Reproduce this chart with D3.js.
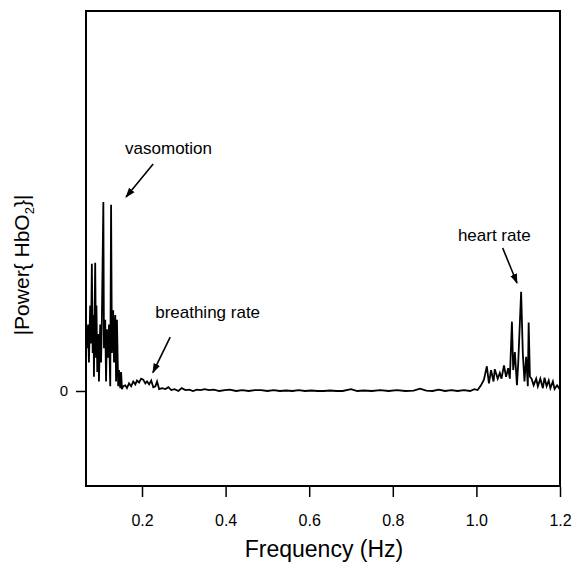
<!DOCTYPE html>
<html>
<head>
<meta charset="utf-8">
<script src="https://cdn.jsdelivr.net/npm/d3@7"></script>
<style>
  body { margin: 0; background: #fff; }
  text { font-family: "Liberation Sans", Arial, Helvetica, sans-serif; fill: #000; }
</style>
</head>
<body>
<div id="chart"></div>
<script>
// Spectrum (frequency in Hz, power in arbitrary units)
const freqHz = [
  0.066, 0.068, 0.071, 0.073, 0.076, 0.078, 0.080, 0.082, 0.084, 0.085,
  0.088, 0.090, 0.091, 0.093, 0.095, 0.097, 0.100, 0.102, 0.104, 0.1075,
  0.109, 0.112, 0.114, 0.116, 0.119, 0.121, 0.124, 0.126, 0.128, 0.131,
  0.133, 0.136, 0.138, 0.140, 0.143, 0.145, 0.148, 0.150, 0.152, 0.155,
  0.160, 0.164, 0.169, 0.174, 0.179, 0.184, 0.188, 0.193, 0.198, 0.203,
  0.208, 0.212, 0.217, 0.222, 0.227, 0.232, 0.236, 0.241, 0.248, 0.256,
  0.263, 0.270, 0.278, 0.287, 0.295, 0.304, 0.313, 0.322, 0.331, 0.340,
  0.350, 0.360, 0.372, 0.385, 0.398, 0.410, 0.425, 0.440, 0.455, 0.470,
  0.485, 0.500, 0.515, 0.530, 0.545, 0.560, 0.575, 0.590, 0.605, 0.620,
  0.635, 0.650, 0.665, 0.680, 0.700, 0.715, 0.730, 0.750, 0.770, 0.790,
  0.810, 0.830, 0.850, 0.865, 0.880, 0.895, 0.910, 0.925, 0.940, 0.955,
  0.970, 0.985, 0.995, 1.003, 1.011, 1.018, 1.025, 1.030, 1.035, 1.041,
  1.044, 1.051, 1.056, 1.060, 1.066, 1.071, 1.076, 1.080, 1.085, 1.088,
  1.092, 1.097, 1.100, 1.107, 1.111, 1.115, 1.119, 1.123, 1.125, 1.128,
  1.132, 1.137, 1.143, 1.147, 1.153, 1.159, 1.163, 1.168, 1.173, 1.177,
  1.183, 1.187, 1.193, 1.199, 1.200
];
const powerHbO2 = [
  0.60, 0.45, 0.70, 0.30, 0.90, 0.50, 1.34, 0.40, 0.80, 0.15,
  1.35, 0.35, 0.90, 0.20, 0.60, 0.10, 0.70, 0.30, 0.75, 1.99,
  0.45, 0.75, 0.10, 0.65, 0.35, 0.70, 0.05, 1.96, 0.40, 0.85,
  0.30, 0.80, 0.10, 0.75, 0.05, 0.22, 0.03, 0.20, 0.02, 0.05,
  0.06, 0.03, 0.08, 0.05, 0.10, 0.07, 0.11, 0.09, 0.13, 0.12,
  0.08, 0.10, 0.07, 0.11, 0.04, 0.05, 0.10, 0.02, 0.03, 0.02,
  0.04, 0.01, 0.02, 0.00, 0.03, 0.01, 0.015, 0.00, 0.015, 0.01,
  0.02, 0.01, 0.015, 0.00, 0.01, 0.015, 0.00, 0.01, 0.00, 0.01,
  0.01, 0.00, 0.01, 0.00, 0.005, 0.00, 0.01, 0.00, 0.005, 0.00,
  0.00, 0.005, 0.00, 0.00, 0.02, 0.00, 0.005, 0.00, 0.01, 0.00,
  0.01, 0.00, 0.005, 0.025, 0.005, 0.00, 0.015, 0.00, 0.01, 0.00,
  0.01, 0.00, 0.02, 0.01, 0.06, 0.12, 0.26, 0.08, 0.22, 0.10,
  0.23, 0.13, 0.19, 0.13, 0.27, 0.15, 0.24, 0.13, 0.73, 0.22,
  0.41, 0.06, 0.29, 1.045, 0.40, 0.10, 0.36, 0.05, 0.72, 0.15,
  0.13, 0.06, 0.13, 0.05, 0.13, 0.03, 0.14, 0.05, 0.11, 0.03,
  0.10, 0.02, 0.06, 0.02, 0.02
];
const xTicks = [0.2, 0.4, 0.6, 0.8, 1.0, 1.2];
const yTicks = [0];

// Annotations: label, label position, arrow tail, arrow tip (data units)
const noteLabels = ["vasomotion", "breathing rate", "heart rate"];
const noteTextAt = [[0.1595, 2.495], [0.2315, 0.768], [0.9557, 1.574]];
const noteTail = [[0.2267, 2.389], [0.2674, 0.568], [1.0629, 1.505]];
const noteTip = [[0.1619, 2.042], [0.226, 0.193], [1.0971, 1.137]];

const W = 576, H = 567;
const plotLeft = 86, plotRight = 560, plotTop = 11, plotBottom = 486;

const svg = d3.select("#chart").append("svg")
  .attr("width", W)
  .attr("height", H);

const x = d3.scaleLinear().domain([0.066, 1.2]).range([plotLeft, plotRight]);
const y = d3.scaleLinear().domain([-1, 4]).range([plotBottom, plotTop]);

const data = freqHz.map((f, i) => ({ f: f, p: powerHbO2[i] }));

// arrow head marker
svg.append("defs").append("marker")
  .attr("id", "head")
  .attr("viewBox", "0 0 10 10")
  .attr("refX", 9)
  .attr("refY", 5)
  .attr("markerWidth", 10)
  .attr("markerHeight", 10)
  .attr("markerUnits", "userSpaceOnUse")
  .attr("orient", "auto")
  .append("path")
  .attr("d", "M0,1.5 L10,5 L0,8.5 Z")
  .attr("fill", "#000");

// spectrum trace
svg.append("path")
  .datum(data)
  .attr("fill", "none")
  .attr("stroke", "#000")
  .attr("stroke-width", 1.8)
  .attr("stroke-linejoin", "miter")
  .attr("d", d3.line().x(d => x(d.f)).y(d => y(d.p)));

// frame
svg.append("rect")
  .attr("x", plotLeft)
  .attr("y", plotTop)
  .attr("width", plotRight - plotLeft)
  .attr("height", plotBottom - plotTop)
  .attr("fill", "none")
  .attr("stroke", "#000")
  .attr("stroke-width", 2);

// x axis (ticks pointing down, outside the frame)
const xAxis = svg.append("g")
  .attr("transform", `translate(0, ${plotBottom + 1})`)
  .call(d3.axisBottom(x).tickValues(xTicks).tickFormat(d3.format(".1f"))
    .tickSizeInner(10).tickSizeOuter(0).tickPadding(18));
xAxis.select(".domain").remove();
xAxis.selectAll(".tick line").attr("stroke", "#000").attr("stroke-width", 1.5);
xAxis.selectAll(".tick text")
  .style("font-family", "'Liberation Sans', Arial, sans-serif")
  .style("font-size", "16px");

// y axis (single zero tick)
const yAxis = svg.append("g")
  .attr("transform", `translate(${plotLeft}, 0)`)
  .call(d3.axisLeft(y).tickValues(yTicks).tickFormat(d3.format("d"))
    .tickSizeInner(10).tickSizeOuter(0).tickPadding(8));
yAxis.select(".domain").remove();
yAxis.selectAll(".tick line").attr("stroke", "#000").attr("stroke-width", 1.5);
yAxis.selectAll(".tick text")
  .style("font-family", "'Liberation Sans', Arial, sans-serif")
  .style("font-size", "15px");

// axis titles
svg.append("text")
  .attr("x", 324)
  .attr("y", 557)
  .attr("text-anchor", "middle")
  .style("font-size", "23px")
  .text("Frequency (Hz)");

const yTitle = svg.append("text")
  .attr("transform", "translate(29, 265) rotate(-90)")
  .attr("text-anchor", "middle")
  .style("font-size", "21px");
yTitle.append("tspan").text("|Power{ HbO");
yTitle.append("tspan").attr("dy", 5).style("font-size", "13px").text("2");
yTitle.append("tspan").attr("dy", -5).text("}|");

// annotations
noteLabels.forEach((label, i) => {
  svg.append("text")
    .attr("x", x(noteTextAt[i][0]))
    .attr("y", y(noteTextAt[i][1]))
    .style("font-size", "17px")
    .text(label);

  svg.append("line")
    .attr("x1", x(noteTail[i][0]))
    .attr("y1", y(noteTail[i][1]))
    .attr("x2", x(noteTip[i][0]))
    .attr("y2", y(noteTip[i][1]))
    .attr("stroke", "#000")
    .attr("stroke-width", 1.6)
    .attr("marker-end", "url(#head)");
});
</script>
</body>
</html>
